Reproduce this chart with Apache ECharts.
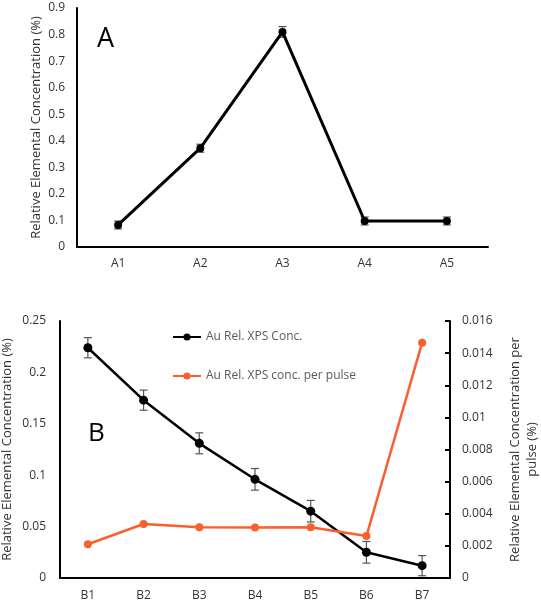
<!DOCTYPE html>
<html>
<head>
<meta charset="utf-8">
<script src="https://cdn.jsdelivr.net/npm/echarts@6/dist/echarts.min.js"></script>
<style>
html,body{margin:0;padding:0;background:#fff;}
#c{width:541px;height:605px;}
</style>
</head>
<body>
<div id="c"></div>
<script>
const categoriesA = ['A1', 'A2', 'A3', 'A4', 'A5'];
const valuesA = [0.083, 0.372, 0.81, 0.098, 0.098];
const errA = [0.015, 0.015, 0.02, 0.015, 0.015];

const categoriesB = ['B1', 'B2', 'B3', 'B4', 'B5', 'B6', 'B7'];
const valuesB = [0.224, 0.173, 0.131, 0.096, 0.065, 0.025, 0.012];
const errB = [0.0098, 0.0098, 0.0102, 0.0105, 0.0105, 0.0105, 0.0098];
const valuesPulse = [0.0021, 0.00336, 0.00316, 0.00315, 0.00316, 0.00261, 0.01465];

const nameB1 = 'Au Rel. XPS Conc.';
const nameB2 = 'Au Rel. XPS conc. per pulse';

const FONT = 'Open Sans';
const TXT = '#333';

function errData(vals, errs) {
  return vals.map((v, i) => [i, v - errs[i], v + errs[i]]);
}
function errRender(params, api) {
  const x = api.value(0);
  const lo = api.coord([x, api.value(1)]);
  const hi = api.coord([x, api.value(2)]);
  const w = 4;
  const style = { stroke: '#555', lineWidth: 1.2 };
  return {
    type: 'group',
    children: [
      { type: 'line', shape: { x1: lo[0], y1: lo[1], x2: hi[0], y2: hi[1] }, style },
      { type: 'line', shape: { x1: lo[0] - w, y1: lo[1], x2: lo[0] + w, y2: lo[1] }, style },
      { type: 'line', shape: { x1: hi[0] - w, y1: hi[1], x2: hi[0] + w, y2: hi[1] }, style }
    ]
  };
}

const axisLineStyle = { show: true, lineStyle: { color: '#000', width: 2 } };
const labelStyle = { color: TXT, fontFamily: FONT, fontSize: 12 };
const titleStyle = { color: TXT, fontFamily: FONT, fontSize: 13 };

const chart = echarts.init(document.getElementById('c'), null, { renderer: 'canvas' });
chart.setOption({
  animation: false,
  backgroundColor: '#fff',
  textStyle: { fontFamily: FONT },
  grid: [
    { left: 77, right: 53, top: 8, bottom: 358, containLabel: false, outerBoundsMode: 'none' },
    { left: 60, right: 91, top: 321, bottom: 27, containLabel: false, outerBoundsMode: 'none' }
  ],
  legend: {
    data: [nameB1, nameB2],
    orient: 'vertical',
    left: 167,
    top: 326,
    itemWidth: 28,
    itemHeight: 9,
    itemGap: 27,
    textStyle: { color: '#5a5a5a', fontFamily: FONT, fontSize: 12 }
  },
  xAxis: [
    {
      gridIndex: 0, type: 'category', data: categoriesA,
      axisLine: axisLineStyle, axisTick: { show: false },
      axisLabel: Object.assign({ margin: 11 }, labelStyle),
      splitLine: { show: false }
    },
    {
      gridIndex: 1, type: 'category', data: categoriesB,
      axisLine: axisLineStyle, axisTick: { show: false },
      axisLabel: Object.assign({ margin: 12 }, labelStyle),
      splitLine: { show: false }
    }
  ],
  yAxis: [
    {
      gridIndex: 0, type: 'value', min: 0, max: 0.9, interval: 0.1,
      axisLine: axisLineStyle, axisTick: { show: false },
      axisLabel: Object.assign({ margin: 12 }, labelStyle),
      splitLine: { show: false },
      name: 'Relative Elemental Concentration (%)',
      nameLocation: 'middle', nameGap: 34, nameRotate: 90, nameMoveOverlap: false,
      nameTextStyle: titleStyle
    },
    {
      gridIndex: 1, type: 'value', min: 0, max: 0.25, interval: 0.05,
      axisLine: axisLineStyle, axisTick: { show: false },
      axisLabel: Object.assign({ margin: 14 }, labelStyle),
      splitLine: { show: false },
      name: 'Relative Elemental Concentration (%)',
      nameLocation: 'middle', nameGap: 46, nameRotate: 90, nameMoveOverlap: false,
      nameTextStyle: titleStyle
    },
    {
      gridIndex: 1, type: 'value', position: 'right', min: 0, max: 0.016, interval: 0.002,
      axisLine: axisLineStyle,
      axisTick: { show: true, inside: true, length: 5, lineStyle: { color: '#000', width: 2 } },
      axisLabel: Object.assign({ margin: 12 }, labelStyle),
      splitLine: { show: false },
      name: 'Relative Elemental Concentration per\npulse (%)',
      nameLocation: 'middle', nameGap: 57, nameRotate: 90, nameMoveOverlap: false,
      nameTextStyle: Object.assign({ lineHeight: 17 }, titleStyle)
    }
  ],
  series: [
    {
      name: 'A', type: 'line', xAxisIndex: 0, yAxisIndex: 0, data: valuesA,
      symbol: 'circle', symbolSize: 8,
      lineStyle: { color: '#000', width: 3 }, itemStyle: { color: '#000' }, z: 3
    },
    {
      name: 'errA', type: 'custom', xAxisIndex: 0, yAxisIndex: 0,
      data: errData(valuesA, errA), renderItem: errRender, z: 2
    },
    {
      name: nameB1, type: 'line', xAxisIndex: 1, yAxisIndex: 1, data: valuesB,
      symbol: 'circle', symbolSize: 9,
      lineStyle: { color: '#000', width: 2.5 }, itemStyle: { color: '#000' }, z: 3
    },
    {
      name: 'errB', type: 'custom', xAxisIndex: 1, yAxisIndex: 1,
      data: errData(valuesB, errB), renderItem: errRender, z: 2
    },
    {
      name: nameB2, type: 'line', xAxisIndex: 1, yAxisIndex: 2, data: valuesPulse,
      symbol: 'circle', symbolSize: 8,
      lineStyle: { color: '#FB5F2D', width: 2.5 }, itemStyle: { color: '#FB5F2D' }, z: 3
    }
  ],
  graphic: [
    { type: 'text', left: 97, top: 26, style: { text: 'A', fontSize: 27, fill: '#000', fontFamily: FONT } },
    { type: 'text', left: 88, top: 421, style: { text: 'B', fontSize: 26, fill: '#000', fontFamily: FONT } }
  ]
});
</script>
</body>
</html>
